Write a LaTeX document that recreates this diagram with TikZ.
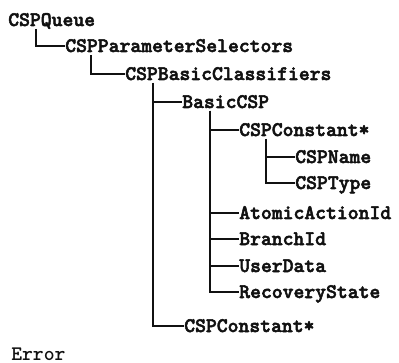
\documentclass[tikz,border=0pt]{standalone}
\usepackage{fontspec}
\newfontfamily\treebf{lmmonolt10-bold.otf}[FakeBold=2.5]
\newfontfamily\treemd{lmmonolt10-bold.otf}
\usepackage{tikz}
\usetikzlibrary{calc,positioning}
\definecolor{cInk}{HTML}{111111}
\tikzset{
  item/.style={anchor=base west,inner sep=0pt,font=\fontsize{15.5}{17}\selectfont\treebf,text height=9.5pt,text depth=0pt,text=cInk},
  plain/.style={item,font=\fontsize{15.5}{17}\selectfont\treemd},
  tline/.style={line width=1.3pt,draw=cInk},
}

\begin{document}
\begin{tikzpicture}[x=0.75pt,y=-0.75pt]
  \useasboundingbox (0,0) rectangle (399,363);
  % tree items
  \node[item] (queue) at (8,26) {CSPQueue};
  \node[item] (psel) at (65,52) {CSPParameterSelectors};
  \node[item] (bcls) at (125,80) {CSPBasicClassifiers};
  \node[item] (bcsp) at (182,108) {BasicCSP};
  \node[item] (cconA) at (239,136) {CSPConstant*};
  \node[item] (cname) at (295,163) {CSPName};
  \node[item] (ctype) at (295,189) {CSPType};
  \foreach \n/\t/\y in {aid/AtomicActionId/219,bid/BranchId/245,udat/UserData/272,rstat/RecoveryState/298}{
    \node[item] (\n) at (239,\y) {\t};}
  \node[item] (cconB) at (184,332) {CSPConstant*};
  \node[plain] (err) at (11,360) {Error};
  % connectors
  \draw[tline] ($(queue.base west)+(28,3)$) |- (psel.west);
  \draw[tline] ($(psel.base west)+(26,3)$) |- (bcls.west);
  \draw[tline] ($(bcls.base west)+(28,3)$) |- (bcsp.west);
  \draw[tline] ($(bcls.base west)+(28,3)$) |- (cconB.west);
  \foreach \n in {cconA,aid,bid,udat,rstat}{
    \draw[tline] ($(bcsp.base west)+(28,3)$) |- (\n.west);}
  \foreach \n in {cname,ctype}{
    \draw[tline] ($(cconA.base west)+(27,3)$) |- (\n.west);}
\end{tikzpicture}
\end{document}
